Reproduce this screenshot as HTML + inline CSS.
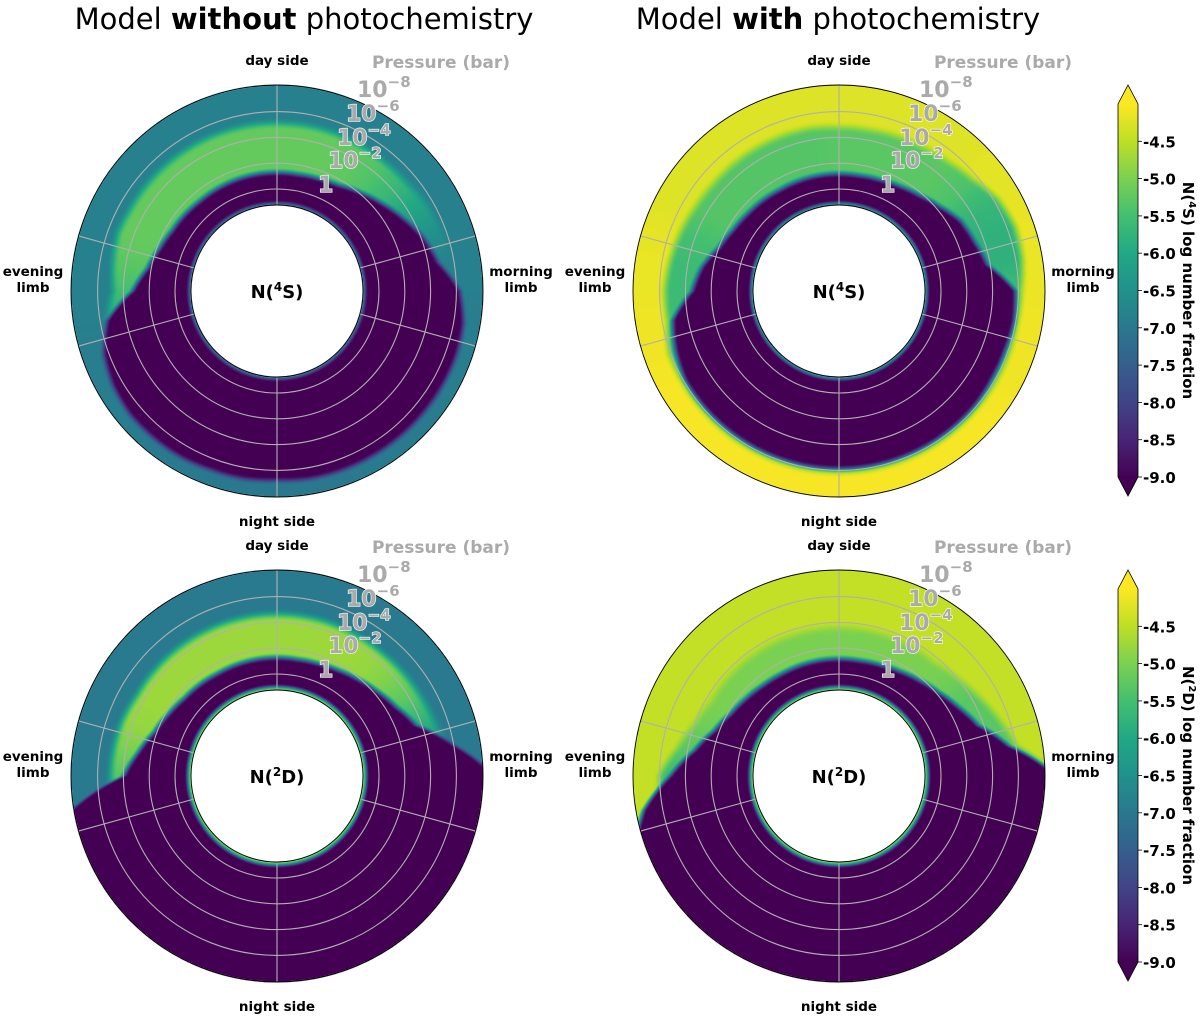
<!DOCTYPE html>
<html><head><meta charset="utf-8">
<style>
html,body{margin:0;padding:0;background:#fff;}
#wrap{position:relative;width:1200px;height:1016px;overflow:hidden;}
canvas,svg{position:absolute;left:0;top:0;}
text{font-family:"DejaVu Sans","Liberation Sans",sans-serif;}
</style></head>
<body>
<div id="wrap">
<canvas id="cv" width="1200" height="1016"></canvas>
<svg id="sv" width="1200" height="1016"></svg>
</div>
<script>
// ---- data (angles clockwise from day side, step 10 deg) ----
const angles = [0,10,20,30,40,50,60,70,80,90,100,110,120,130,140,150,160,170,180,190,200,210,220,230,240,250,260,270,280,290,300,310,320,330,340,350];
const pressureTicks = [0,-2,-4,-6,-8];
const pressureTickLabels = ["1","10","10","10","10"];
const pressureTickExps = ["","−2","−4","−6","−8"];
const cbarTicks = [-4.5,-5.0,-5.5,-6.0,-6.5,-7.0,-7.5,-8.0,-8.5,-9.0];

// Panel A: N(4S) without photochemistry
const aPurpleTop = [-1.3,-1.3,-1.4,-1.6,-2.1,-2.7,-3.4,-4.2,-4.8,-6.3,-6.8,-6.9,-6.9,-6.9,-6.9,-6.9,-6.9,-6.9,-6.8,-6.9,-6.9,-7.0,-7.0,-7.0,-6.8,-6.4,-5.5,-3.3,-2.3,-1.8,-1.5,-1.4,-1.3,-1.3,-1.3,-1.3];
const aBandTop   = [-5.1,-5.1,-5.1,-5.1,-5.1,-5.2,-5.5,-5.7,-6.0,-6.5,-6.8,-6.9,-6.9,-6.9,-6.9,-6.9,-6.9,-6.9,-6.8,-6.9,-6.9,-7.0,-7.0,-7.0,-6.8,-6.4,-5.5,-4.8,-5.0,-5.2,-5.1,-5.1,-5.1,-5.1,-5.1,-5.1];
const aBandVal   = [-5.2,-5.2,-5.2,-5.25,-5.4,-5.7,-6.1,-6.5,-6.8,-6.8,-6.8,-6.8,-6.8,-6.8,-6.8,-6.8,-6.8,-6.8,-6.8,-6.8,-6.8,-6.8,-6.8,-6.8,-6.8,-6.8,-6.0,-5.5,-5.3,-5.2,-5.2,-5.2,-5.2,-5.2,-5.2,-5.2];
const aOuterVal  = [-6.85,-6.85,-6.85,-6.85,-6.85,-6.85,-6.85,-6.85,-6.85,-6.85,-6.9,-6.9,-6.9,-6.95,-6.95,-6.95,-7.0,-7.0,-7.0,-7.0,-7.0,-6.95,-6.95,-6.9,-6.9,-6.9,-6.85,-6.85,-6.85,-6.85,-6.85,-6.85,-6.85,-6.85,-6.85,-6.85];
const aInner = [-7.2, 0.4];

// Panel B: N(4S) with photochemistry
const bPurpleTop = [-1.2,-1.2,-1.3,-1.5,-1.8,-2.3,-3.0,-3.3,-3.8,-5.8,-5.9,-5.8,-5.8,-5.9,-5.9,-5.9,-5.9,-5.9,-5.9,-5.9,-5.9,-5.9,-5.9,-5.9,-5.9,-5.6,-5.2,-3.5,-2.9,-2.0,-1.6,-1.4,-1.3,-1.2,-1.2,-1.2];
const bBandTop   = [-4.8,-4.8,-4.9,-5.0,-5.2,-5.6,-6.3,-6.6,-6.5,-6.2,-6.1,-6.1,-6.1,-6.1,-6.1,-6.1,-6.1,-6.1,-6.1,-6.1,-6.1,-6.1,-6.1,-6.1,-6.1,-6.1,-5.6,-5.6,-5.4,-5.2,-5.0,-4.9,-4.9,-4.9,-4.9,-4.9];
const bBandVal   = [-5.3,-5.3,-5.3,-5.3,-5.3,-5.4,-5.7,-5.8,-5.8,-5.6,-5.6,-5.6,-5.6,-5.6,-5.6,-5.6,-5.6,-5.6,-5.6,-5.6,-5.6,-5.6,-5.6,-5.6,-5.6,-5.6,-5.6,-5.6,-5.6,-5.5,-5.35,-5.35,-5.35,-5.35,-5.35,-5.35];
const bOuterVal  = [-4.25,-4.25,-4.25,-4.25,-4.25,-4.2,-4.2,-4.15,-4.15,-4.15,-4.1,-4.1,-4.1,-4.05,-4.05,-4.05,-4.05,-4.05,-4.05,-4.05,-4.05,-4.05,-4.05,-4.05,-4.05,-4.1,-4.1,-4.15,-4.15,-4.2,-4.25,-4.25,-4.25,-4.25,-4.25,-4.25];
const bInner = [-6.5, 0.4];

// Panel C: N(2D) without photochemistry
const cPurpleTop = [-1.3,-1.3,-1.4,-1.6,-1.9,-2.3,-2.8,-3.6,-6.0,-9,-9,-9,-9,-9,-9,-9,-9,-9,-9,-9,-9,-9,-9,-9,-9,-9,-8.5,-4.0,-3.0,-2.2,-1.8,-1.5,-1.4,-1.3,-1.3,-1.3];
const cBandTop   = [-4.6,-4.6,-4.6,-4.6,-4.6,-4.7,-4.8,-5.0,-5.3,-9,-9,-9,-9,-9,-9,-9,-9,-9,-9,-9,-9,-9,-9,-9,-9,-9,-5.0,-5.0,-4.9,-4.8,-4.6,-4.6,-4.6,-4.6,-4.6,-4.6];
const cBandVal   = [-4.75,-4.75,-4.75,-4.75,-4.8,-5.0,-5.3,-5.8,-6.3,-7,-7,-7,-7,-7,-7,-7,-7,-7,-7,-7,-7,-7,-7,-7,-7,-7,-6.0,-5.3,-5.0,-4.8,-4.75,-4.75,-4.75,-4.75,-4.75,-4.75];
const cOuterVal  = [-6.95,-6.95,-6.95,-6.95,-6.95,-6.95,-6.95,-6.95,-6.95,-6.95,-6.95,-6.95,-6.95,-6.95,-6.95,-6.95,-6.95,-6.95,-6.95,-6.95,-6.95,-6.95,-6.95,-6.95,-6.95,-6.95,-6.95,-6.95,-6.95,-6.95,-6.95,-6.95,-6.95,-6.95,-6.95,-6.95];
const cInner = [-5.0, 0.5];

// Panel D: N(2D) with photochemistry
const dPurpleTop = [-1.2,-1.2,-1.3,-1.5,-1.8,-2.2,-2.8,-3.6,-5.5,-9,-9,-9,-9,-9,-9,-9,-9,-9,-9,-9,-9,-9,-9,-9,-9,-9,-7.5,-5.2,-3.5,-2.4,-1.8,-1.5,-1.3,-1.2,-1.2,-1.2];
const dBandTop   = [-3.6,-3.6,-3.6,-3.6,-3.6,-4.0,-4.5,-5.2,-6.0,-9,-9,-9,-9,-9,-9,-9,-9,-9,-9,-9,-9,-9,-9,-9,-9,-9,-6.0,-6.0,-4.8,-4.0,-3.6,-3.6,-3.6,-3.6,-3.6,-3.6];
const dBandVal   = [-5.0,-5.0,-5.0,-5.0,-5.0,-5.1,-5.3,-5.3,-5.3,-6,-6,-6,-6,-6,-6,-6,-6,-6,-6,-6,-6,-6,-6,-6,-6,-6,-5.6,-5.6,-5.3,-5.1,-5.0,-5.0,-5.0,-5.0,-5.0,-5.0];
const dOuterVal  = [-4.45,-4.45,-4.45,-4.45,-4.45,-4.45,-4.45,-4.45,-4.45,-4.45,-4.45,-4.45,-4.45,-4.45,-4.45,-4.45,-4.45,-4.45,-4.45,-4.45,-4.45,-4.45,-4.45,-4.45,-4.45,-4.45,-4.45,-4.45,-4.45,-4.45,-4.45,-4.45,-4.45,-4.45,-4.45,-4.45];
const dInner = [-5.0, 0.5];

const panels = [
  {name:'n4s-without-photochem', cx:277, cy:291, pt:aPurpleTop, bt:aBandTop, bv:aBandVal, ov:aOuterVal, inner:aInner, label:'4', sp:'S'},
  {name:'n4s-with-photochem', cx:839, cy:291, pt:bPurpleTop, bt:bBandTop, bv:bBandVal, ov:bOuterVal, inner:bInner, label:'4', sp:'S'},
  {name:'n2d-without-photochem', cx:277, cy:776, pt:cPurpleTop, bt:cBandTop, bv:cBandVal, ov:cOuterVal, inner:cInner, label:'2', sp:'D'},
  {name:'n2d-with-photochem', cx:839, cy:776, pt:dPurpleTop, bt:dBandTop, bv:dBandVal, ov:dOuterVal, inner:dInner, label:'2', sp:'D'}
];

// ---- scales ----
const R_IN = 86, R_OUT = 206, R0 = 102, K = 12.9;
const VMIN = -9, VMAX = -4;
function rOf(lp){ return R0 - K*lp; }
function lpOf(r){ return (R0 - r)/K; }
const vir = [[68,1,84],[72,36,117],[65,68,135],[53,95,141],[42,120,142],[33,145,140],[34,168,132],[68,191,112],[122,209,81],[189,223,38],[253,231,37]];
function viridis(v){
  let t = (v - VMIN)/(VMAX - VMIN); t = Math.max(0, Math.min(1, t));
  const f = t*10, i = Math.min(9, Math.floor(f)), u = f - i;
  const a = vir[i], b = vir[i+1];
  return [a[0]+(b[0]-a[0])*u, a[1]+(b[1]-a[1])*u, a[2]+(b[2]-a[2])*u];
}
function sstep(e0,e1,x){ let t=(x-e0)/(e1-e0); t=Math.max(0,Math.min(1,t)); return t*t*(3-2*t); }
function interp(arr, th){
  const f = th/10, i0 = Math.floor(f)%36, i1 = (i0+1)%36, u = f - Math.floor(f);
  return arr[i0]*(1-u) + arr[i1]*u;
}
function valueAt(p, th, lp){
  const pt = interp(p.pt, th), bt = interp(p.bt, th), bv = interp(p.bv, th), ov = interp(p.ov, th);
  const f1 = sstep(-0.35, 0.35, pt - lp);
  const f2 = sstep(-0.5, 0.5, bt - lp);
  let v = -9*(1-f1) + f1*(bv*(1-f2) + ov*f2);
  const lin = lpOf(R_IN);
  const di = lin - lp;
  const g = 1 - sstep(0, p.inner[1], di);
  v = v*(1-g) + p.inner[0]*g;
  return v;
}

// ---- draw heatmaps ----
const cv = document.getElementById('cv');
const ctx = cv.getContext('2d');
const img = ctx.createImageData(1200, 1016);
for (let y=0; y<1016; y++) for (let x=0; x<1200; x++){ const k=(y*1200+x)*4; img.data[k]=255; img.data[k+1]=255; img.data[k+2]=255; img.data[k+3]=255; }
panels.forEach(p=>{
  for (let y=Math.floor(p.cy-R_OUT-1); y<=p.cy+R_OUT+1; y++){
    for (let x=Math.floor(p.cx-R_OUT-1); x<=p.cx+R_OUT+1; x++){
      const dx = x+0.5-p.cx, dy = y+0.5-p.cy;
      const r = Math.sqrt(dx*dx+dy*dy);
      if (r < R_IN || r > R_OUT) continue;
      let th = Math.atan2(dx, -dy)*180/Math.PI; if (th<0) th+=360;
      const c = viridis(valueAt(p, th, lpOf(r)));
      const k=(y*1200+x)*4; img.data[k]=c[0]; img.data[k+1]=c[1]; img.data[k+2]=c[2];
    }
  }
});
ctx.putImageData(img,0,0);

// ---- SVG overlay ----
const NS = 'http://www.w3.org/2000/svg';
const sv = document.getElementById('sv');
function el(tag, attrs, parent){ const e=document.createElementNS(NS,tag); for(const k in attrs) e.setAttribute(k,attrs[k]); (parent||sv).appendChild(e); return e; }

const defs = el('defs',{});
const lg = el('linearGradient',{id:'vg',x1:'0',y1:'1',x2:'0',y2:'0'},defs);
vir.forEach((c,i)=>{ el('stop',{offset:(i/10).toFixed(2),'stop-color':`rgb(${c[0]},${c[1]},${c[2]})`},lg); });

function txt(s, attrs, parent){ const t=el('text',attrs,parent); t.textContent=s; return t; }

const title1 = el('text',{x:304,y:29,'font-size':29,'text-anchor':'middle',fill:'#000'});


title1.innerHTML = 'Model <tspan font-weight="bold">without</tspan> photochemistry';
const title2 = el('text',{x:838,y:29,'font-size':29,'text-anchor':'middle',fill:'#000'});


title2.innerHTML = 'Model <tspan font-weight="bold">with</tspan> photochemistry';

const radialAngles = [0, 74.5, 105.5, 180, 254.5, 285.5];
const labelDx = [41, 51, 60, 69, 80];
const labelDy = [-99, -123, -146, -170, -194];
panels.forEach(p=>{
  const g = el('g',{});
  
  
  pressureTicks.forEach(lp=>{
    if (lp < -7.9) return;
    const c = el('circle',{cx:p.cx,cy:p.cy,r:rOf(lp),fill:'none',stroke:'#b0b0b0','stroke-width':1.1},g);
    
    
  });
  radialAngles.forEach(a=>{
    const t=a*Math.PI/180, sx=Math.sin(t), cy=-Math.cos(t);
    const l = el('line',{x1:p.cx+sx*R_IN,y1:p.cy+cy*R_IN,x2:p.cx+sx*R_OUT,y2:p.cy+cy*R_OUT,stroke:'#b0b0b0','stroke-width':1.1},g);
    
    
  });
  const oc = el('circle',{cx:p.cx,cy:p.cy,r:R_OUT,fill:'none',stroke:'#000','stroke-width':0.9},g);
  
  
  const ic = el('circle',{cx:p.cx,cy:p.cy,r:R_IN,fill:'none',stroke:'#000','stroke-width':0.9},g);
  
  

  const sp = el('text',{x:p.cx,y:p.cy+7,'font-size':18,'font-weight':'bold','text-anchor':'middle',fill:'#000'},g);
  
  
  sp.innerHTML = 'N(<tspan font-size="12" dy="-7">'+p.label+'</tspan><tspan dy="7">'+p.sp+')</tspan>';

  const lab = (s,x,y,nm)=>{ const t=txt(s,{x:x,y:y,'font-size':13.5,'font-weight':'bold','text-anchor':'middle',fill:'#000'},g);   };
  lab('day side', p.cx, p.cy-226, 'day-side-label');
  lab('night side', p.cx, p.cy+235, 'night-side-label');
  lab('evening', p.cx-244, p.cy-15, 'evening-limb-label');
  lab('limb', p.cx-244, p.cy+1, 'evening-limb-label');
  lab('morning', p.cx+244, p.cy-15, 'morning-limb-label');
  lab('limb', p.cx+244, p.cy+1, 'morning-limb-label');

  const pt = txt('Pressure (bar)',{x:p.cx+164,y:p.cy-223,'font-size':17,'font-weight':'bold','text-anchor':'middle',fill:'#aaaaaa'},g);
  
  
  pressureTicks.forEach((lp,i)=>{
    const x = p.cx + labelDx[i], y = p.cy + labelDy[i];
    const t = el('text',{x:x,y:y,'font-size':22,'font-weight':'bold',fill:'#aaaaaa',stroke:'#ffffff','stroke-width':1.2,'paint-order':'stroke'},g);
    
    
    if (pressureTickExps[i]) t.innerHTML = pressureTickLabels[i]+'<tspan font-size="15" dy="-10">'+pressureTickExps[i]+'</tspan>';
    else t.textContent = pressureTickLabels[i];
  });
});

// colorbars
const cbars = [{y0:104,y1:477,lab:'4',sp:'S'},{y0:589,y1:962,lab:'2',sp:'D'}];
cbars.forEach((cb,ci)=>{
  const g = el('g',{});
  
  
  const X0=1118, X1=1138;
  el('rect',{x:X0,y:cb.y0,width:X1-X0,height:cb.y1-cb.y0,fill:'url(#vg)'},g);
  el('polygon',{points:`${X0},${cb.y0} ${X1},${cb.y0} ${(X0+X1)/2},${cb.y0-19}`,fill:'rgb(253,231,37)'},g);
  el('polygon',{points:`${X0},${cb.y1} ${X1},${cb.y1} ${(X0+X1)/2},${cb.y1+19}`,fill:'rgb(68,1,84)'},g);
  el('polygon',{points:`${X0},${cb.y0} ${(X0+X1)/2},${cb.y0-19} ${X1},${cb.y0} ${X1},${cb.y1} ${(X0+X1)/2},${cb.y1+19} ${X0},${cb.y1}`,fill:'none',stroke:'#000','stroke-width':0.8},g);
  const ys = v => cb.y1 - (v - VMIN)/(VMAX - VMIN)*(cb.y1-cb.y0);
  cbarTicks.forEach(v=>{
    const y = ys(v);
    el('line',{x1:X1,y1:y,x2:X1+4,y2:y,stroke:'#000','stroke-width':0.8},g);
    const t = txt(v.toFixed(1),{x:X1+5,y:y+6,'font-size':15,'font-weight':'bold',fill:'#000'},g);
    
    
  });
  const cyc = (cb.y0+cb.y1)/2;
  const t = el('text',{x:1183,y:cyc,'font-size':15,'font-weight':'bold','text-anchor':'middle',fill:'#000',transform:`rotate(90 1183 ${cyc})`},g);
  
  
  t.innerHTML = 'N(<tspan font-size="10" dy="-6">'+cb.lab+'</tspan><tspan dy="6">'+cb.sp+') log number fraction</tspan>';
});
</script>
</body></html>
